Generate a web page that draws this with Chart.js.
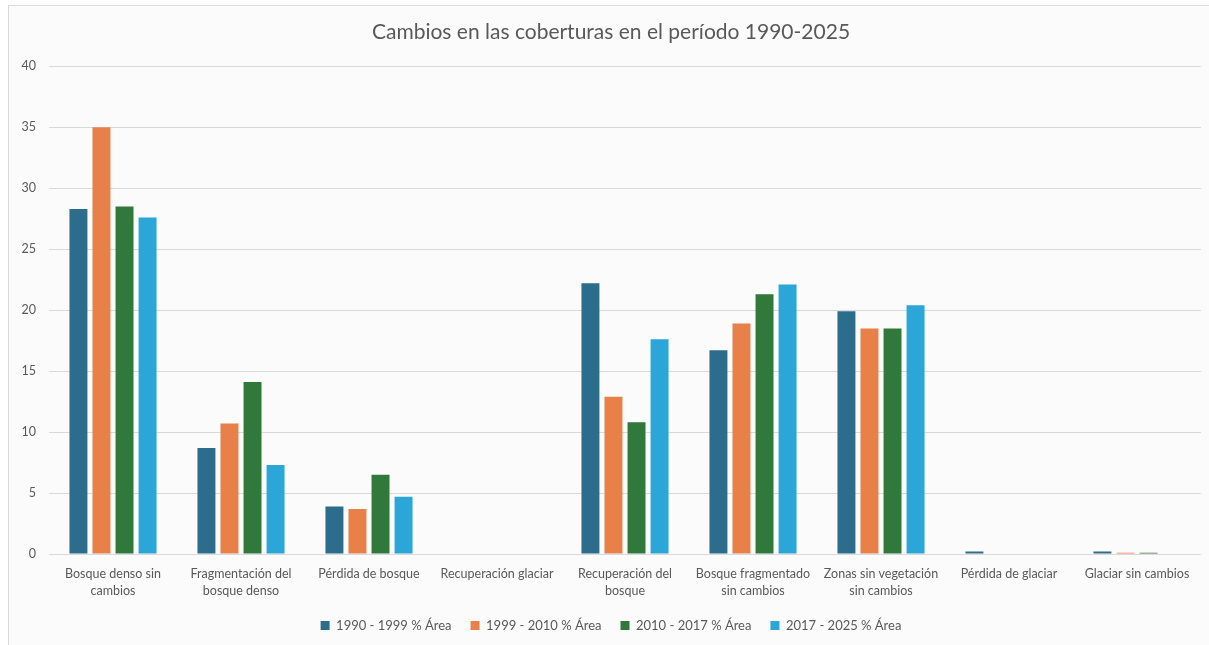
<!DOCTYPE html>
<html>
<head>
<meta charset="utf-8">
<script src="https://cdn.jsdelivr.net/npm/chart.js@4/dist/chart.umd.min.js"></script>
<style>
	body { margin: 0; background: #ffffff; }
	#frame {
		position: absolute; left: 8px; top: 5px; width: 1210px; height: 650px;
		border: 1px solid #d9d9d9; background: #fbfbfb; box-sizing: border-box;
	}
	#wrap { position: absolute; left: 0; top: 0; width: 1200px; height: 640px; }
</style>
</head>
<body>
<div id="frame"><div id="wrap"><canvas id="chart"></canvas></div></div>
<script>
// land cover classes (x axis)
var categories = [
	["Bosque denso sin", "cambios"],
	["Fragmentación del", "bosque denso"],
	"Pérdida de bosque",
	"Recuperación glaciar",
	["Recuperación del", "bosque"],
	["Bosque fragmentado", "sin cambios"],
	["Zonas sin vegetación", "sin cambios"],
	"Pérdida de glaciar",
	"Glaciar sin cambios"
];

// % of area per period
var area1990_1999 = [28.3, 8.7, 3.9, 0, 22.2, 16.7, 19.9, 0.2, 0.2];
var area1999_2010 = [35.0, 10.7, 3.7, 0, 12.9, 18.9, 18.5, 0, 0.1];
var area2010_2017 = [28.5, 14.1, 6.5, 0, 10.8, 21.3, 18.5, 0, 0.1];
var area2017_2025 = [27.6, 7.3, 4.7, 0, 17.6, 22.1, 20.4, 0, 0];

var seriesNames = ["1990 - 1999 % Área", "1999 - 2010 % Área", "2010 - 2017 % Área", "2017 - 2025 % Área"];
var seriesColors = ["#2d6d8c", "#e8804a", "#30793a", "#2aa6d9"];

var yTicks = { min: 0, max: 40, step: 5 };

var textColor = "#595959";
var fontFamily = "Lato, 'Noto Sans', sans-serif";

function makeDataset(i, values) {
	return {
		label: seriesNames[i],
		data: values,
		backgroundColor: seriesColors[i],
		borderWidth: 0,
		categoryPercentage: 0.72,
		barPercentage: 0.78
	};
}

var ctx = document.getElementById('chart');
var chart = new Chart(ctx, {
	type: 'bar',
	data: {
		labels: categories,
		datasets: [
			makeDataset(0, area1990_1999),
			makeDataset(1, area1999_2010),
			makeDataset(2, area2010_2017),
			makeDataset(3, area2017_2025)
		]
	},
	options: {
		responsive: true,
		maintainAspectRatio: false,
		animation: false,
		layout: { padding: { left: 12, right: 8, top: 0, bottom: 4 } },
		plugins: {
			title: {
				display: true,
				text: "Cambios en las coberturas en el período 1990-2025",
				color: textColor,
				font: { family: fontFamily, size: 21, weight: 'normal' },
				padding: { top: 14, bottom: 21 }
			},
			legend: {
				position: 'bottom',
				labels: {
					color: textColor,
					font: { family: fontFamily, size: 13 },
					boxWidth: 9,
					boxHeight: 9,
					padding: 19
				}
			},
			tooltip: { enabled: false }
		},
		scales: {
			x: {
				// two label lines plus padding, nothing more
				afterFit: function(scale) { scale.height = 46; },
				grid: { display: false, drawTicks: false, tickLength: 0 },
				border: { display: false },
				ticks: {
					color: textColor,
					font: { family: fontFamily, size: 12.5, lineHeight: 1.35 },
					maxRotation: 0,
					autoSkip: false,
					padding: 12
				}
			},
			y: {
				min: yTicks.min,
				max: yTicks.max,
				afterFit: function(scale) { scale.width = 28; },
				grid: { color: "#d9d9d9", lineWidth: 1, drawTicks: false },
				border: { display: false },
				ticks: {
					stepSize: yTicks.step,
					color: textColor,
					font: { family: fontFamily, size: 12.5 },
					padding: 13
				}
			}
		}
	}
});
</script>
</body>
</html>
